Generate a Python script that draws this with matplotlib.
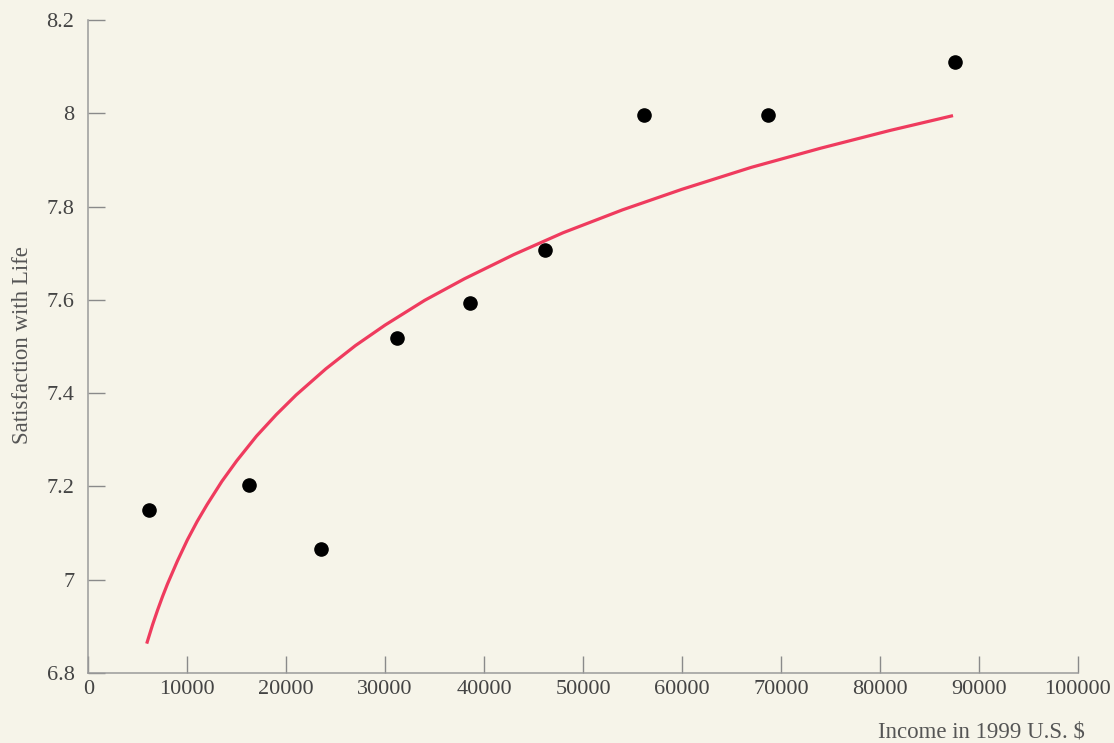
import matplotlib
matplotlib.use("Agg")
import matplotlib.pyplot as plt

# Data
income = [6130, 16240, 23520, 31200, 38580, 46160, 56170, 68700, 87610]
satisfaction = [7.150, 7.203, 7.066, 7.518, 7.593, 7.707, 7.996, 7.996, 8.110]

# Fitted curve
curve_x = [5900, 6500, 7000, 7500, 8000, 9000, 10000, 11000, 12000, 13500,
           15000, 17000, 19000, 21000, 24000, 27000, 30000, 34000, 38000,
           43000, 48000, 54000, 60000, 67000, 74000, 81000, 87400]
curve_y = [6.863, 6.904, 6.935, 6.964, 6.991, 7.040, 7.085, 7.125, 7.161, 7.211,
           7.255, 7.308, 7.354, 7.396, 7.452, 7.502, 7.546, 7.599, 7.645,
           7.697, 7.744, 7.793, 7.837, 7.884, 7.925, 7.963, 7.995]

x_ticks = [0, 10000, 20000, 30000, 40000, 50000, 60000, 70000, 80000, 90000, 100000]
y_ticks = [6.8, 7.0, 7.2, 7.4, 7.6, 7.8, 8.0, 8.2]
y_tick_labels = ["6.8", "7", "7.2", "7.4", "7.6", "7.8", "8", "8.2"]

bg = "#f6f4e9"
plt.rcParams["font.family"] = ["Liberation Serif", "DejaVu Serif"]

fig = plt.figure(figsize=(11.14, 7.43), dpi=100, facecolor=bg)
ax = fig.add_axes([0.0793, 0.0942, 0.8881, 0.8789], facecolor=bg)

ax.plot(curve_x, curve_y, color="#ef3b5e", lw=2.3, solid_capstyle="butt",
        solid_joinstyle="round", zorder=2)
ax.scatter(income, satisfaction, s=90, color="black", zorder=3)

ax.set_xlim(0, 100000)
ax.set_ylim(6.8, 8.2)
ax.set_xticks(x_ticks)
ax.set_xticklabels([str(t) for t in x_ticks])
ax.set_yticks(y_ticks)
ax.set_yticklabels(y_tick_labels)

# spines: only left and bottom, grey
for side in ["top", "right"]:
    ax.spines[side].set_visible(False)
for side in ["left", "bottom"]:
    ax.spines[side].set_color("#9a9a9a")
    ax.spines[side].set_linewidth(1.1)

ax.tick_params(direction="in", length=12, width=1.0, color="#8a8a8a",
               labelsize=16, labelcolor="#444444")
ax.tick_params(axis="y", pad=10)
ax.tick_params(axis="x", pad=5)

fig.text(0.0198, 0.535, "Satisfaction with Life", rotation=90,
         ha="center", va="center", fontsize=16.5, color="#555555")
fig.text(0.974, 0.0148, "Income in 1999 U.S. $", ha="right", va="center",
         fontsize=16.5, color="#555555")

plt.savefig("out.png", dpi=100, facecolor=bg)
